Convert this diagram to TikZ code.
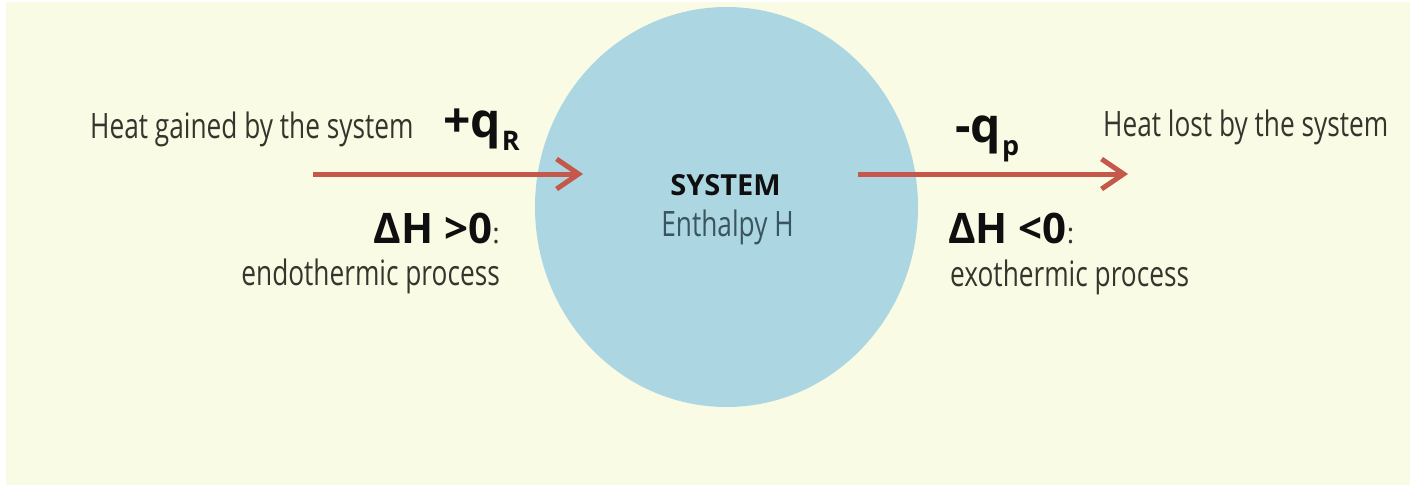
\documentclass[tikz,border=0pt]{standalone}
\usepackage{fontspec}
\setmainfont{Open Sans}[FakeStretch=0.75]
\newfontfamily\boldfam{Open Sans}
\usetikzlibrary{arrows.meta,shapes.geometric}
\definecolor{bgyellow}{RGB}{250,251,228}
\definecolor{sysblue}{RGB}{172,215,226}
\definecolor{arrowred}{RGB}{196,88,74}
\definecolor{txtgray}{RGB}{52,54,46}
\definecolor{txtdark}{RGB}{15,15,15}
\definecolor{enthcol}{RGB}{58,84,96}
\tikzset{
  lbl/.style={inner sep=0pt, text=txtgray, font=\fontsize{35}{38}\selectfont},
  qlbl/.style={inner sep=0pt, text=txtdark, font=\boldfam\bfseries\fontsize{48}{50}\selectfont},
  dh/.style={inner sep=0pt, text=txtdark, font=\boldfam\bfseries\fontsize{42}{44}\selectfont},
  heatarrow/.style={draw=arrowred, line width=5pt, -{Straight Barb[length=22pt,width=30pt,line width=5pt]}},
}
\newcommand{\colonmark}{\textmd{\fontsize{28}{28}\selectfont\color{txtgray}:}}
\newcommand{\qsub}[1]{\kern1pt\raisebox{-13pt}{\fontsize{27}{27}\selectfont #1}}
\begin{document}
\begin{tikzpicture}[x=1pt,y=-1pt]
\useasboundingbox (0,0) rectangle (1410,485);
\fill[white] (0,0) rectangle (1410,485);
\fill[bgyellow] (6,2) rectangle (1410,485);
\node[ellipse, fill=sysblue, minimum width=383pt, minimum height=400pt, inner sep=0pt] (sys) at (726.5,207) {};
\node[inner sep=0pt, anchor=base, text=txtdark, font=\boldfam\bfseries\fontsize{29}{31}\selectfont] (systxt) at (725.5,195) {SYSTEM};
\node[inner sep=0pt, anchor=base, text=enthcol, font=\fontsize{35}{38}\selectfont] (enth) at (727.5,236) {Enthalpy H};
% left side
\node[lbl, anchor=base west] (gain) at (90,138) {Heat gained by the system};
\node[qlbl, anchor=base west] (qin) at (443,137) {+q\qsub{R}};
\node[dh, anchor=base east] (dhpos) at (500,243) {ΔH >0\colonmark};
\node[lbl, anchor=base east] (endo) at (500,285) {endothermic process};
% right side
\node[qlbl, anchor=base west] (qout) at (955,142) {-q\qsub{p}};
\node[lbl, anchor=base west] (lost) at (1103,136) {Heat lost by the system};
\node[dh, anchor=base west] (dhneg) at (948,243) {ΔH <0\colonmark};
\node[lbl, anchor=base west] (exo) at (950,286) {exothermic process};
% arrows
\coordinate (inStart) at (313,174);
\coordinate (inEnd) at (583,174);
\coordinate (outStart) at (858,174);
\coordinate (outEnd) at (1128,174);
\draw[heatarrow] (inStart) -- (inEnd);
\draw[heatarrow] (outStart) -- (outEnd);
\end{tikzpicture}
\end{document}
